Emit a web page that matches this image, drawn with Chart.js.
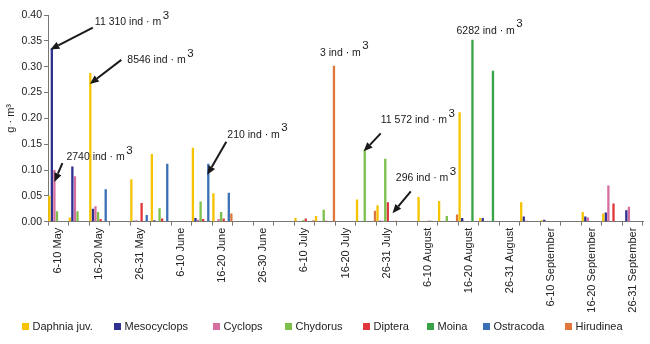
<!DOCTYPE html>
<html><head><meta charset="utf-8">
<script src="https://cdn.jsdelivr.net/npm/chart.js@4/dist/chart.umd.min.js"></script>
<style>html,body{margin:0;padding:0;background:#fff}#wrap{width:650px;height:344px}</style>
</head><body><div id="wrap"><canvas id="c" width="650" height="344"></canvas></div>
<script>
const categories = ['6-10 May','11-15 May','16-20 May','21-25 May','26-31 May',
  '1-5 June','6-10 June','11-15 June','16-20 June','21-25 June','26-30 June',
  '1-5 July','6-10 July','11-15 July','16-20 July','21-25 July','26-31 July',
  '1-5 August','6-10 August','11-15 August','16-20 August','21-25 August','26-31 August',
  '1-5 September','6-10 September','11-15 September','16-20 September','21-25 September','26-31 September'];

const seriesNames = ['Daphnia juv.','Mesocyclops','Cyclops','Chydorus','Diptera','Moina','Ostracoda','Hirudinea'];

const daphnia = [0.050, 0.008, 0.288, 0, 0.082, 0.131, 0, 0.143, 0.055, 0, 0, 0, 0.007, 0.011, 0, 0.043, 0.032, 0, 0.048, 0.040, 0.212, 0.007, 0, 0.0375, 0.003, 0, 0.019, 0.016, 0];
const mesocyclops = [0.335, 0.107, 0.025, 0, 0.002, 0.003, 0, 0.007, 0, 0, 0, 0, 0, 0, 0, 0, 0.002, 0, 0, 0, 0.007, 0.007, 0, 0.010, 0.004, 0, 0.010, 0.018, 0.022];
const cyclops = [0.100, 0.088, 0.030, 0, 0.003, 0, 0, 0.004, 0.005, 0, 0, 0, 0, 0, 0, 0, 0.002, 0, 0, 0, 0, 0, 0, 0.002, 0, 0, 0.008, 0.070, 0.029];
const chydorus = [0.020, 0.020, 0.019, 0, 0, 0.026, 0, 0.039, 0.019, 0, 0, 0, 0.003, 0.023, 0, 0.140, 0.122, 0, 0, 0.011, 0, 0, 0, 0, 0, 0, 0, 0, 0];
const diptera = [0, 0, 0.005, 0, 0.036, 0.006, 0, 0.005, 0.006, 0, 0, 0, 0.006, 0.002, 0, 0, 0.0375, 0, 0.002, 0, 0, 0, 0, 0, 0, 0, 0, 0.035, 0];
const moina = [0, 0, 0, 0, 0, 0, 0, 0, 0, 0, 0, 0, 0, 0, 0, 0, 0, 0, 0.002, 0, 0.352, 0.292, 0, 0, 0, 0, 0, 0, 0];
const ostracoda = [0, 0, 0.063, 0, 0.013, 0.112, 0, 0.112, 0.056, 0, 0, 0, 0, 0, 0, 0, 0, 0, 0, 0, 0, 0, 0, 0, 0, 0, 0, 0, 0];
const hirudinea = [0, 0, 0, 0, 0, 0, 0, 0, 0.016, 0, 0, 0, 0.003, 0.302, 0, 0.021, 0.002, 0, 0, 0.014, 0, 0, 0, 0, 0, 0, 0, 0, 0];

const yTicks = [0, 0.05, 0.10, 0.15, 0.20, 0.25, 0.30, 0.35, 0.40];

const colors = ['#F5C300','#2E3192','#D46FA0','#7CC04B','#E0353B','#37A346','#3B70B6','#E0763A'];
const values = [daphnia, mesocyclops, cyclops, chydorus, diptera, moina, ostracoda, hirudinea];

const FONT = '"Liberation Sans", Arial, sans-serif';

// annotation labels, anchored to a bar (dataset index, category index)
const notes = [
  {ds:1, i:0,  text:'11 310 ind · m', at:[43,-26], tip:[-1.5,1],  tail:[41,-21]},
  {ds:0, i:2,  text:'8546 ind · m',   at:[37,-13], tip:[-0.5,11], tail:[31,-13]},
  {ds:2, i:0,  text:'2740 ind · m',   at:[12,-13], tip:[0,12],    tail:[8,-7]},
  {ds:6, i:7,  text:'210 ind · m',    at:[19,-29], tip:[-1,11],   tail:[18,-22]},
  {ds:7, i:13, text:'3 ind · m',      at:[-14,-13]},
  {ds:3, i:15, text:'11 572 ind · m', at:[16,-29], tip:[-1,2],    tail:[16,-16]},
  {ds:4, i:16, text:'296 ind · m',    at:[8,-24],  tip:[4.7,11],  tail:[23,-11]},
  {ds:5, i:20, text:'6282 ind · m',   at:[-16,-9]}
];

function arrow(ctx, x1, y1, x2, y2){
  const a = Math.atan2(y2-y1, x2-x1), L = 9, W = 3.8;
  const bx = x2 - L*Math.cos(a), by = y2 - L*Math.sin(a);
  ctx.lineWidth = 2;
  ctx.beginPath(); ctx.moveTo(x1,y1); ctx.lineTo(bx,by); ctx.stroke();
  ctx.beginPath(); ctx.moveTo(x2,y2);
  ctx.lineTo(bx - W*Math.sin(a), by + W*Math.cos(a));
  ctx.lineTo(bx + W*Math.sin(a), by - W*Math.cos(a));
  ctx.closePath(); ctx.fill();
}

const annotPlugin = {
  id:'annot',
  afterDatasetsDraw(chart){
    const ctx = chart.ctx;
    ctx.save();
    ctx.fillStyle = '#1a1a1a'; ctx.strokeStyle = '#1a1a1a';
    ctx.textBaseline = 'middle'; ctx.textAlign = 'left';
    notes.forEach(n => {
      const el = chart.getDatasetMeta(n.ds).data[n.i];
      const bx = el.x, by = el.y;
      const tx = bx + n.at[0], ty = by + n.at[1];
      ctx.font = '10.5px ' + FONT;
      ctx.fillText(n.text, tx, ty);
      const w = ctx.measureText(n.text).width;
      ctx.font = '11.5px ' + FONT;
      ctx.fillText('3', tx + w + 1.5, ty - 6.5);
      if (n.tip) arrow(ctx, bx + n.tail[0], by + n.tail[1], bx + n.tip[0], by + n.tip[1]);
    });
    ctx.restore();
  }
};

// legend drawn with the reference's uneven spacing
const legendPlugin = {
  id:'customLegend',
  afterDraw(chart){
    const ctx = chart.ctx;
    const boxX = [22, 114, 213, 285, 363, 427, 483, 565];
    const cy = 327;
    ctx.save();
    ctx.font = '11px ' + FONT;
    ctx.textBaseline = 'middle'; ctx.textAlign = 'left';
    chart.data.datasets.forEach((ds, k) => {
      ctx.fillStyle = ds.backgroundColor;
      ctx.fillRect(boxX[k], cy - 4, 7, 7);
      ctx.fillStyle = '#222';
      ctx.fillText(ds.label, boxX[k] + 10.5, cy);
    });
    ctx.restore();
  }
};

new Chart(document.getElementById('c'), {
  type:'bar',
  data:{
    labels: categories,
    datasets: seriesNames.map((name, k) => ({
      label: name, data: values[k], backgroundColor: colors[k], borderWidth: 0,
      categoryPercentage: 1.0, barPercentage: 0.9
    }))
  },
  options:{
    responsive:false, animation:false, devicePixelRatio:1,
    layout:{padding:{top:15, right:7, bottom:30.3, left:0}},
    plugins:{
      legend:{display:false},
      tooltip:{enabled:false}
    },
    scales:{
      x:{
        grid:{display:true, drawOnChartArea:false, tickLength:4, color:'#777', offset:true},
        border:{color:'#777'},
        ticks:{autoSkip:false, minRotation:90, maxRotation:90, padding:2, color:'#222',
          font:{size:11, family:FONT},
          callback(v, i){ return i % 2 === 0 ? this.getLabelForValue(v) : ''; }},
        afterFit(s){ s.height = 92; }
      },
      y:{
        min:0, max:0.4,
        afterBuildTicks(s){ s.ticks = yTicks.map(v => ({value:v})); },
        ticks:{padding:2, color:'#222', font:{size:10.5, family:FONT}, callback:v => v.toFixed(2)},
        grid:{drawOnChartArea:false, tickLength:4, color:'#777'},
        border:{color:'#777'},
        title:{display:true, text:'g · m³', color:'#222', font:{size:11, family:FONT}, padding:{top:4, bottom:0}},
        afterFit(s){ s.width = 48; }
      }
    }
  },
  plugins:[annotPlugin, legendPlugin]
});
</script>
</body></html>
